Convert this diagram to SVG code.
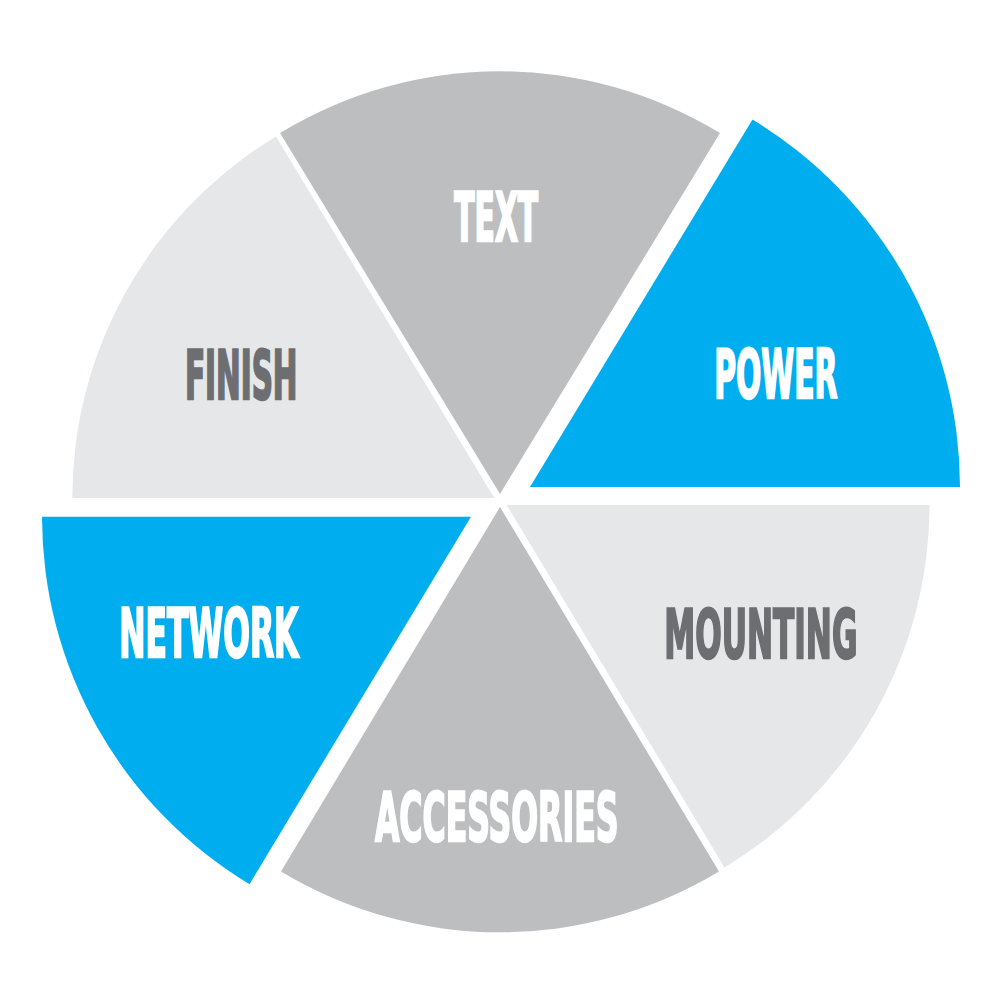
<svg xmlns="http://www.w3.org/2000/svg" width="1000" height="1000" viewBox="0 0 1000 1000">
  <style>
    .light { fill: #E6E7E8; }
    .mid { fill: #BCBEC0; }
    .blue { fill: #00AEEF; }
    .lbl { font-family: "DejaVu Sans", "Liberation Sans", sans-serif; font-weight: bold; font-stretch: condensed; font-size: 68px; stroke-width: 2.4; stroke-linejoin: miter; }
    .w { fill: #FFFFFF; stroke: #FFFFFF; }
    .g { fill: #6D6E71; stroke: #6D6E71; }
  </style>
  <rect width="1000" height="1000" fill="#FFFFFF"/>
  <g id="text-sector">
    <path class="mid" d="M500,494 L720,133 A423,423 0 0,0 280,133 Z"/>
    <text class="lbl w" transform="translate(454.2,241.1) scale(0.7,1)" x="0" y="0" textLength="120" lengthAdjust="spacingAndGlyphs">TEXT</text>
  </g>
  <g id="power-sector">
    <path class="blue" d="M530,487 L960,487 A430,430 0 0,0 752.5,119.5 Z"/>
    <text class="lbl w" transform="translate(714.2,398.1) scale(0.7,1)" x="0" y="0" textLength="176.1" lengthAdjust="spacingAndGlyphs">POWER</text>
  </g>
  <g id="finish-sector">
    <path class="light" d="M494.3,498 L276,136.5 A422,422 0 0,0 72.3,498 Z"/>
    <text class="lbl g" transform="translate(184.9,398.8) scale(0.7,1)" x="0" y="0" textLength="160.9" lengthAdjust="spacingAndGlyphs">FINISH</text>
  </g>
  <g id="network-sector">
    <path class="blue" d="M471,516.7 L42,516.7 A429,429 0 0,0 249.5,884.2 Z"/>
    <text class="lbl w" transform="translate(119.2,657.1) scale(0.7,1)" x="0" y="0" textLength="256.1" lengthAdjust="spacingAndGlyphs">NETWORK</text>
  </g>
  <g id="accessories-sector">
    <path class="mid" d="M500,507 L281,871.5 A425,425 0 0,0 719,871.5 Z"/>
    <text class="lbl w" transform="translate(374.9,841.3) scale(0.7,1)" x="0" y="0" textLength="348" lengthAdjust="spacingAndGlyphs">ACCESSORIES</text>
  </g>
  <g id="mounting-sector">
    <path class="light" d="M506.7,505 L724.5,867.5 A423,423 0 0,0 929.5,505 Z"/>
    <text class="lbl g" transform="translate(664.2,657.5) scale(0.7,1)" x="0" y="0" textLength="276.1" lengthAdjust="spacingAndGlyphs">MOUNTING</text>
  </g>
</svg>
